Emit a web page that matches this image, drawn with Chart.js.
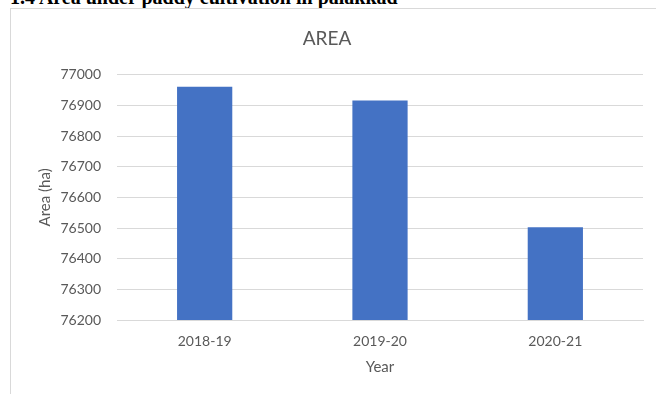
<!DOCTYPE html>
<html>
<head>
<meta charset="utf-8">
<script src="https://cdn.jsdelivr.net/npm/chart.js@4"></script>
<style>
  html, body { margin: 0; padding: 0; background: #fff; overflow: hidden; }
  body { width: 656px; height: 394px; position: relative; }
  .heading {
    position: absolute; left: 10px; top: -13px;
    font: bold 20px "Liberation Serif", "Times New Roman", serif;
    line-height: 20px; color: #000; white-space: nowrap;
  }
  .frame {
    position: absolute; left: 10px; top: 8px; width: 700px; height: 420px;
    border: 1px solid #d9d9d9; box-sizing: border-box;
  }
  .chart-box { position: absolute; left: 11px; top: 9px; width: 654px; height: 390px; }
</style>
</head>
<body>
<div class="heading">1.4 Area under paddy cultivation in palakkad</div>
<div class="frame"></div>
<div class="chart-box"><canvas id="areaChart" width="654" height="390"></canvas></div>

<script>
// Paddy area per year (ha)
const years = ['2018-19', '2019-20', '2020-21'];
const areaValues = [76961, 76916, 76503];
const axisMin = 76200;
const axisMax = 77000;
const axisStep = 100;

document.addEventListener('DOMContentLoaded', function() {
    initializeAreaChart();
});

function initializeAreaChart() {
    const ctx = document.getElementById('areaChart').getContext('2d');
    const labelColor = '#595959';
    const gridColor = '#d9d9d9';

    new Chart(ctx, {
        type: 'bar',
        data: {
            labels: years,
            datasets: [{
                label: 'Area',
                data: areaValues,
                backgroundColor: '#4472c4',
                borderWidth: 0,
                barPercentage: 0.315,
                categoryPercentage: 1
            }]
        },
        options: {
            responsive: false,
            animation: false,
            layout: {
                padding: { left: 0, right: 22, top: 0, bottom: 0 }
            },
            scales: {
                x: {
                    grid: { display: false, drawTicks: false },
                    border: { display: true, color: gridColor, width: 1 },
                    ticks: {
                        color: labelColor,
                        font: { family: 'Lato', size: 14 },
                        padding: 13,
                        maxRotation: 0
                    },
                    title: {
                        display: true,
                        text: 'Year',
                        color: labelColor,
                        font: { family: 'Lato', size: 15 },
                        padding: { top: 0, bottom: 23 }
                    },
                    afterFit: function(scale) { scale.height = 79; }
                },
                y: {
                    min: axisMin,
                    max: axisMax,
                    grid: { color: gridColor, lineWidth: 1, drawTicks: false },
                    border: { display: false },
                    ticks: {
                        stepSize: axisStep,
                        color: labelColor,
                        font: { family: 'Lato', size: 14 },
                        padding: 16,
                        // plain numbers, no thousands separator
                        callback: function(value) { return String(value); }
                    },
                    title: {
                        display: true,
                        text: 'Area (ha)',
                        color: labelColor,
                        font: { family: 'Lato', size: 15 },
                        padding: { top: 25, bottom: 0 }
                    },
                    afterFit: function(scale) { scale.width = 106; }
                }
            },
            plugins: {
                legend: { display: false },
                tooltip: { enabled: false },
                title: {
                    display: true,
                    text: 'AREA',
                    color: labelColor,
                    font: { family: 'Lato', size: 19, weight: 'normal' },
                    padding: { top: 18, bottom: 25 }
                }
            }
        }
    });
}
</script>
</body>
</html>
